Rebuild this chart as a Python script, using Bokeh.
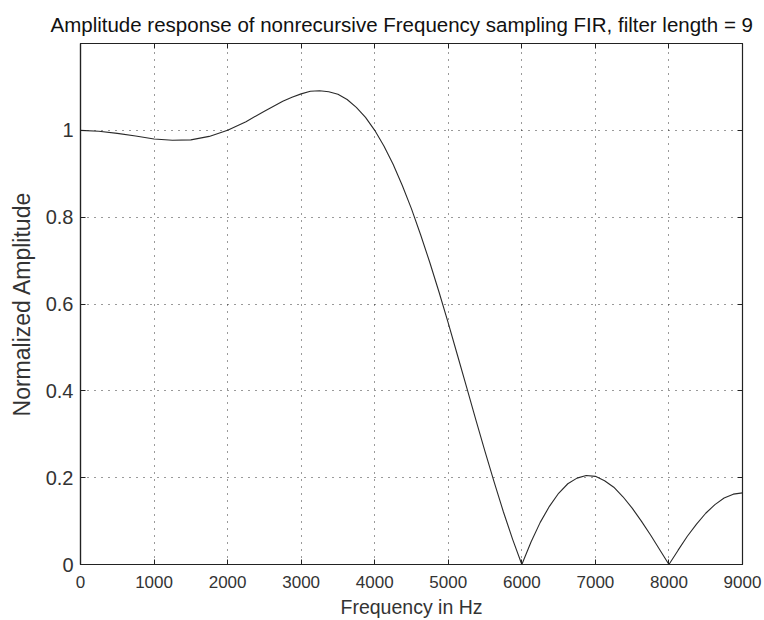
from bokeh.plotting import figure
from bokeh.models import LinearAxis, FixedTicker, NumeralTickFormatter, Range1d
from bokeh.embed import file_html
from bokeh.resources import INLINE

# Frequency (Hz) and normalized amplitude
freq_hz = [0, 250, 500, 750, 1000, 1250, 1500, 1750, 2000, 2250, 2500, 2750,
           2875, 3000, 3125, 3250, 3375, 3500, 3625, 3750, 3875, 4000, 4125,
           4250, 4375, 4500, 4625, 4750, 4875, 5000, 5125, 5250, 5375, 5500,
           5625, 5750, 5875, 6000, 6125, 6250, 6375, 6500, 6625, 6750, 6875,
           7000, 7125, 7250, 7375, 7500, 7625, 7750, 7875, 8000, 8125, 8250,
           8375, 8500, 8625, 8750, 8875, 9000]
amplitude = [1.000, 0.998, 0.993, 0.987, 0.980, 0.977, 0.978, 0.986, 1.000,
             1.020, 1.044, 1.067, 1.076, 1.084, 1.090, 1.091, 1.089, 1.083,
             1.071, 1.053, 1.030, 1.000, 0.964, 0.922, 0.873, 0.819, 0.759,
             0.695, 0.627, 0.556, 0.482, 0.408, 0.333, 0.260, 0.189, 0.121,
             0.058, 0.000, 0.052, 0.097, 0.134, 0.164, 0.186, 0.199, 0.205,
             0.203, 0.193, 0.178, 0.156, 0.130, 0.100, 0.068, 0.034, 0.000,
             0.033, 0.065, 0.093, 0.118, 0.138, 0.153, 0.162, 0.165]

x_ticks = [0, 1000, 2000, 3000, 4000, 5000, 6000, 7000, 8000, 9000]
y_ticks = [0, 0.2, 0.4, 0.6, 0.8, 1.0]

title_text = "Amplitude response of nonrecursive Frequency sampling FIR, filter length = 9"
FONT = "Liberation Sans"
INK = "#222222"

p = figure(width=764, height=620, output_backend="svg", toolbar_location=None,
           x_range=Range1d(0, 9000), y_range=Range1d(0, 1.2),
           title=title_text,
           min_border_left=80, min_border_right=22,
           min_border_top=43, min_border_bottom=55)
p.background_fill_color = "white"
p.border_fill_color = "white"
p.outline_line_color = INK
p.outline_line_width = 1.2

p.title.text_font = FONT
p.title.text_font_size = "20.5px"
p.title.text_font_style = "normal"
p.title.text_color = "#111111"
p.title.align = "left"
p.title.offset = -30
p.title.standoff = 16

p.xaxis.ticker = FixedTicker(ticks=x_ticks)
p.yaxis.ticker = FixedTicker(ticks=y_ticks)
p.yaxis.formatter = NumeralTickFormatter(format="0.[0]")

for ax in p.xaxis + p.yaxis:
    ax.major_tick_in = 5
    ax.major_tick_out = 0
    ax.minor_tick_line_color = None
    ax.axis_line_color = INK
    ax.axis_line_width = 1.2
    ax.major_tick_line_color = INK
    ax.major_label_text_font = FONT
    ax.major_label_text_color = "#333333"
    ax.axis_label_text_font = FONT
    ax.axis_label_text_font_style = "normal"
    ax.axis_label_text_color = "#333333"

p.xaxis.axis_label = "Frequency in Hz"
p.xaxis.major_label_text_font_size = "17px"
p.xaxis.axis_label_text_font_size = "19.5px"
p.xaxis.major_label_standoff = 11
p.xaxis.axis_label_standoff = 5

p.yaxis.axis_label = "Normalized Amplitude"
p.yaxis.major_label_text_font_size = "20px"
p.yaxis.axis_label_text_font_size = "23px"
p.yaxis.major_label_standoff = 7
p.yaxis.axis_label_standoff = 8

top_axis = LinearAxis(ticker=FixedTicker(ticks=x_ticks), major_label_text_font_size="1px",
                      major_label_text_color=None,
                      major_label_standoff=0, major_tick_in=5, major_tick_out=0,
                      minor_tick_line_color=None, axis_line_color=INK,
                      major_tick_line_color=INK)
right_axis = LinearAxis(ticker=FixedTicker(ticks=y_ticks), major_label_text_font_size="1px",
                        major_label_text_color=None,
                        major_label_standoff=0, major_tick_in=5, major_tick_out=0,
                        minor_tick_line_color=None, axis_line_color=INK,
                        major_tick_line_color=INK)
p.add_layout(top_axis, "above")
p.add_layout(right_axis, "right")

p.xgrid.ticker = FixedTicker(ticks=x_ticks)
p.ygrid.ticker = FixedTicker(ticks=y_ticks)
for g in (p.xgrid, p.ygrid):
    g.grid_line_color = "#111111"
    g.grid_line_alpha = 0.85
    g.grid_line_dash = "1 6"
    g.grid_line_width = 1

p.line(freq_hz, amplitude, line_color="#2a2a2a", line_width=1.1)

open("out.html", "w").write(file_html(p, INLINE))
